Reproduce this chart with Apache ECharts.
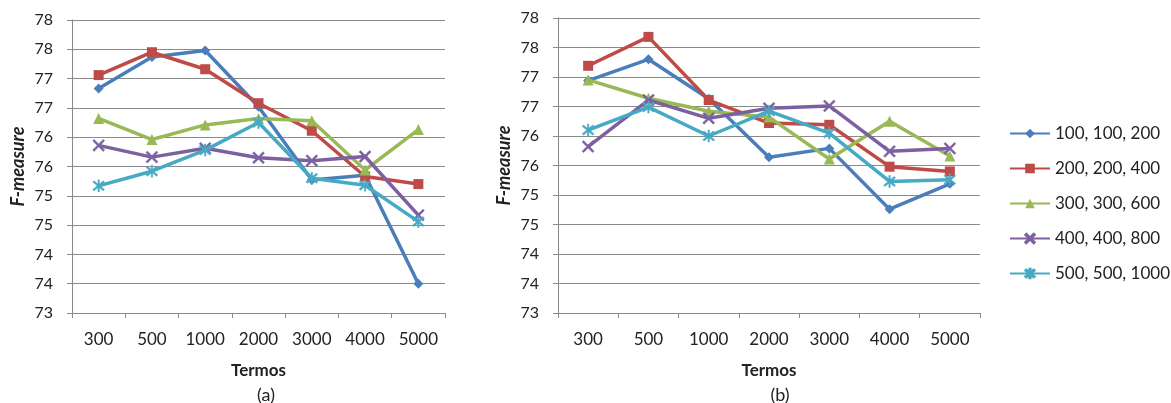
<!DOCTYPE html>
<html>
<head>
<meta charset="utf-8">
<script src="https://cdn.jsdelivr.net/npm/echarts@6/dist/echarts.min.js"></script>
<style>
html,body{margin:0;padding:0;background:#fff;}
#chart{width:1171px;height:403px;}
</style>
</head>
<body>
<div id="chart"></div>
<script>
const categories = ['300', '500', '1000', '2000', '3000', '4000', '5000'];
const seriesNames = ['100, 100, 200', '200, 200, 400', '300, 300, 600', '400, 400, 800', '500, 500, 1000'];
const yTicks = [73, 73.5, 74, 74.5, 75, 75.5, 76, 76.5, 77, 77.5, 78];

// Chart (a)
const a_100 = [76.83, 77.37, 77.48, 76.52, 75.27, 75.35, 73.5];
const a_200 = [77.06, 77.45, 77.16, 76.58, 76.11, 75.33, 75.2];
const a_300 = [76.32, 75.96, 76.21, 76.32, 76.28, 75.44, 76.13];
const a_400 = [75.86, 75.66, 75.81, 75.65, 75.6, 75.67, 74.67];
const a_500 = [75.17, 75.42, 75.78, 76.25, 75.3, 75.18, 74.56];

// Chart (b)
const b_100 = [76.94, 77.3, 76.63, 75.64, 75.79, 74.76, 75.19];
const b_200 = [77.19, 77.68, 76.61, 76.22, 76.19, 75.48, 75.4];
const b_300 = [76.95, 76.64, 76.42, 76.32, 75.61, 76.25, 75.66];
const b_400 = [75.82, 76.61, 76.3, 76.47, 76.51, 75.74, 75.79];
const b_500 = [76.1, 76.49, 76.0, 76.42, 76.05, 75.23, 75.26];

const colors = ['#4A7EBB', '#BE4B48', '#98B954', '#7D60A0', '#46AAC5'];
const xPath = 'path://M0,1.2 L1.2,0 L5,3.8 L8.8,0 L10,1.2 L6.2,5 L10,8.8 L8.8,10 L5,6.2 L1.2,10 L0,8.8 L3.8,5 Z';
const starPath = 'path://M0,1.2 L1.2,0 L5,3.8 L8.8,0 L10,1.2 L6.2,5 L10,8.8 L8.8,10 L5,6.2 L1.2,10 L0,8.8 L3.8,5 Z M4.4,-1 L5.6,-1 L5.6,11 L4.4,11 Z';
const symbols = ['diamond', 'rect', 'triangle', xPath, starPath];
const symbolSizes = [10, 10, 11, 12, 12];

const dataA = [a_100, a_200, a_300, a_400, a_500];
const dataB = [b_100, b_200, b_300, b_400, b_500];

const FONT = 'Lato, "Open Sans", sans-serif';
const gridColor = '#8a8a8a';

function xAxisCfg(gi) {
  return {
    type: 'category', gridIndex: gi, data: categories, boundaryGap: true,
    axisLine: { show: true, lineStyle: { color: gridColor, width: 1 } },
    axisTick: { show: true, length: 5, alignWithLabel: false, lineStyle: { color: gridColor } },
    axisLabel: { fontFamily: FONT, fontSize: 17, color: '#222', margin: 18 },
    name: 'Termos', nameLocation: 'middle', nameGap: 49,
    nameTextStyle: { fontFamily: FONT, fontSize: 17, fontWeight: 'bold', color: '#222' }
  };
}
function yAxisCfg(gi) {
  return {
    type: 'value', gridIndex: gi, min: 73, max: 78, interval: 0.5,
    axisLine: { show: true, lineStyle: { color: gridColor, width: 1 } },
    axisTick: { show: true, length: 5, lineStyle: { color: gridColor } },
    splitLine: { show: true, lineStyle: { color: gridColor, width: 1.2 } },
    axisLabel: {
      fontFamily: FONT, fontSize: 16, color: '#222', margin: 19,
      formatter: function (v) { return String(Math.round(v)); }
    },
    name: 'F-measure', nameLocation: 'middle', nameGap: 45,
    nameTextStyle: { fontFamily: FONT, fontSize: 18, fontWeight: 'bold', fontStyle: 'italic', color: '#222' }
  };
}

const series = [];
[dataA, dataB].forEach(function (set, gi) {
  set.forEach(function (vals, i) {
    series.push({
      name: seriesNames[i], type: 'line', xAxisIndex: gi, yAxisIndex: gi,
      data: vals, symbol: symbols[i], symbolSize: symbolSizes[i], showAllSymbol: true,
      lineStyle: { color: colors[i], width: 3.5 },
      itemStyle: { color: colors[i], borderColor: colors[i], borderWidth: (i >= 3 ? 0.5 : 0) },
      z: 2 + i, animation: false
    });
  });
});

const chart = echarts.init(document.getElementById('chart'), null, { renderer: 'canvas' });
chart.setOption({
  animation: false,
  backgroundColor: '#fff',
  color: colors,
  title: [
    { text: '(a)', left: 261, top: 381, textAlign: 'center', textStyle: { fontFamily: FONT, fontSize: 18, fontWeight: 'normal', color: '#222' } },
    { text: '(b)', left: 775, top: 381, textAlign: 'center', textStyle: { fontFamily: FONT, fontSize: 18, fontWeight: 'normal', color: '#222' } }
  ],
  legend: {
    orient: 'vertical', left: 1004, top: 120, itemWidth: 40, itemHeight: 12, itemGap: 18,
    data: seriesNames,
    textStyle: { fontFamily: FONT, fontSize: 17, color: '#222' }
  },
  grid: [
    { left: 72, top: 20, width: 373, height: 293, containLabel: false },
    { left: 558, top: 18, width: 422, height: 295, containLabel: false }
  ],
  xAxis: [xAxisCfg(0), xAxisCfg(1)],
  yAxis: [yAxisCfg(0), yAxisCfg(1)],
  series: series
});
</script>
</body>
</html>
